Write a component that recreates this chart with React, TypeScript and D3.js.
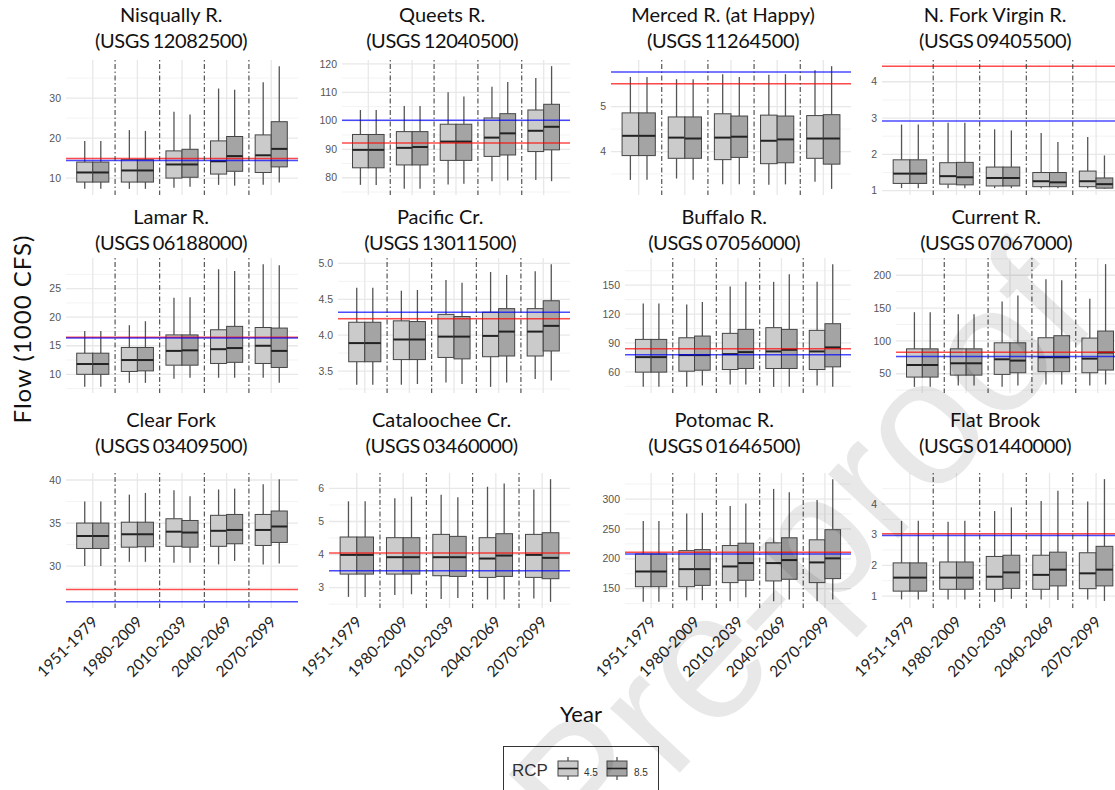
import React from 'react';
import * as d3 from 'd3';

const periods = ['1951-1979', '1980-2009', '2010-2039', '2040-2069', '2070-2099'];
const rcpLevels = ['4.5', '8.5'];
const stationNames = ['Nisqually R.', 'Queets R.', 'Merced R. (at Happy)', 'N. Fork Virgin R.', 'Lamar R.', 'Pacific Cr.', 'Buffalo R.', 'Current R.', 'Clear Fork', 'Cataloochee Cr.', 'Potomac R.', 'Flat Brook'];
const gaugeIds = ['12082500', '12040500', '11264500', '09405500', '06188000', '13011500', '07056000', '07067000', '03409500', '03460000', '01646500', '01440000'];
const redLines = [14.9, 92.2, 5.51, 4.43, 16.5, 4.23, 84, 82.8, 27.3, 4.05, 210.9, 3.03];
const blueLines = [14.4, 100.2, 5.77, 2.92, 16.35, 4.32, 77.7, 76.1, 25.85, 3.51, 208.1, 2.97];
const yTicks = [
  [10, 20, 30], [80, 90, 100, 110, 120], [4, 5], [1, 2, 3, 4],
  [10, 15, 20, 25], [3.5, 4.0, 4.5, 5.0], [60, 90, 120, 150], [50, 100, 150, 200],
  [30, 35, 40], [3, 4, 5, 6], [150, 200, 250, 300], [1, 2, 3, 4],
];
const tickFormats = ['d', 'd', 'd', 'd', 'd', '.1f', 'd', 'd', 'd', 'd', 'd', 'd'];

// [period][rcp] = [lower whisker, q1, median, q3, upper whisker]
const nisqually = [
  [[7.3, 9.0, 11.4, 14.0, 19.3], [7.3, 9.0, 11.4, 14.0, 19.3]],
  [[7.3, 9.0, 11.9, 14.6, 22.0], [7.3, 9.0, 11.9, 14.6, 21.8]],
  [[7.6, 10.0, 13.4, 16.8, 26.6], [7.8, 10.2, 13.4, 17.2, 25.9]],
  [[8.3, 11.0, 14.2, 19.3, 32.4], [8.1, 11.7, 15.5, 20.4, 32.1]],
  [[8.3, 11.4, 15.7, 20.8, 34.0], [8.9, 12.8, 17.3, 24.1, 38.0]],
];
const queets = [
  [[77.5, 83.5, 89.8, 95.2, 103.8], [77.5, 83.5, 89.8, 95.2, 103.8]],
  [[76.1, 84.5, 90.5, 96.2, 105.2], [76.1, 84.5, 90.8, 96.2, 105.2]],
  [[77.6, 86.1, 92.7, 98.8, 110], [77.9, 86.1, 92.7, 98.8, 108.5]],
  [[78.8, 87.5, 94.1, 101, 112], [79, 88, 95.6, 102.5, 113.6]],
  [[79.2, 89.2, 96.5, 103.8, 115], [78.8, 89.8, 97.9, 105.8, 119.2]],
];
const merced = [
  [[3.37, 3.91, 4.35, 4.86, 5.66], [3.37, 3.91, 4.35, 4.86, 5.66]],
  [[3.40, 3.85, 4.31, 4.77, 5.61], [3.37, 3.85, 4.29, 4.77, 5.61]],
  [[3.27, 3.82, 4.31, 4.84, 5.72], [3.27, 3.87, 4.33, 4.79, 5.66]],
  [[3.26, 3.73, 4.24, 4.81, 5.71], [3.27, 3.75, 4.27, 4.79, 5.72]],
  [[3.33, 3.85, 4.29, 4.80, 5.81], [3.17, 3.72, 4.29, 4.82, 5.90]],
];
const nForkVirgin = [
  [[1.07, 1.20, 1.47, 1.85, 2.82], [1.07, 1.20, 1.47, 1.85, 2.82]],
  [[1.07, 1.18, 1.40, 1.77, 2.87], [1.07, 1.16, 1.37, 1.78, 2.87]],
  [[1.07, 1.13, 1.35, 1.65, 2.69], [1.07, 1.13, 1.35, 1.65, 2.66]],
  [[1.07, 1.11, 1.26, 1.50, 2.59], [1.07, 1.11, 1.23, 1.50, 2.34]],
  [[1.07, 1.11, 1.26, 1.54, 2.48], [1.05, 1.07, 1.18, 1.35, 1.97]],
];
const lamar = [
  [[7.8, 10.0, 11.8, 13.7, 17.6], [7.8, 10.0, 11.8, 13.7, 17.6]],
  [[8.5, 10.5, 12.5, 14.7, 18.6], [8.5, 10.6, 12.5, 14.7, 19.3]],
  [[9.2, 11.6, 14.1, 16.9, 23.4], [9.4, 11.6, 14.2, 16.9, 23.5]],
  [[9.4, 11.9, 14.4, 17.8, 28.4], [9.4, 12.1, 14.6, 18.4, 28.1]],
  [[9.4, 11.9, 15.0, 18.2, 29.3], [8.5, 11.2, 14.1, 18.1, 29.1]],
];
const pacific = [
  [[3.31, 3.63, 3.89, 4.18, 4.66], [3.31, 3.63, 3.89, 4.18, 4.66]],
  [[3.31, 3.66, 3.94, 4.20, 4.62], [3.32, 3.66, 3.94, 4.19, 4.63]],
  [[3.34, 3.69, 3.98, 4.29, 4.77], [3.32, 3.67, 3.98, 4.26, 4.73]],
  [[3.28, 3.70, 3.99, 4.32, 4.88], [3.34, 3.71, 4.05, 4.37, 4.84]],
  [[3.39, 3.71, 4.05, 4.37, 4.89], [3.37, 3.78, 4.13, 4.48, 4.99]],
];
const buffalo = [
  [[44.4, 59.7, 75.3, 93.7, 131], [44.4, 59.7, 75.3, 93.7, 131]],
  [[44.4, 60.7, 77.4, 95.4, 130], [45.8, 61.7, 77.4, 97.2, 132.6]],
  [[46.8, 62.4, 78.4, 100, 148.6], [46.8, 63.5, 80.5, 104.1, 153.5]],
  [[44.4, 63.5, 81.2, 105.9, 153.5], [44.4, 63.5, 82.9, 104.1, 161.5]],
  [[45.8, 62.4, 81.2, 103.1, 153.5], [44.4, 65.2, 85.4, 110, 171.9]],
];
const current = [
  [[30, 44.9, 63.3, 87.9, 143.7], [30, 44.9, 63.3, 87.9, 143.7]],
  [[32.1, 47.9, 65.9, 87.9, 140.6], [32.1, 47.9, 65.9, 87.9, 140.6]],
  [[30, 49, 72, 97.1, 160], [32, 51.5, 70, 97.1, 169.3]],
  [[33.6, 53.1, 75.1, 104.8, 193.9], [33.6, 53.1, 75.1, 107.9, 192.3]],
  [[32.1, 51.5, 73, 104.3, 164.2], [33.6, 55.6, 82.3, 115, 216.9]],
];
const clearFork = [
  [[30.0, 32.05, 33.5, 35.0, 37.5], [30.0, 32.05, 33.5, 35.0, 37.5]],
  [[30.5, 32.2, 33.7, 35.1, 38.3], [30.5, 32.25, 33.7, 35.1, 38.5]],
  [[30.4, 32.3, 34.0, 35.5, 38.8], [30.4, 32.2, 33.9, 35.3, 38.1]],
  [[30.2, 32.3, 34.1, 35.9, 38.9], [30.6, 32.6, 34.2, 36.0, 39.0]],
  [[30.2, 32.4, 34.2, 36.0, 39.5], [30.3, 32.75, 34.6, 36.4, 40.1]],
];
const cataloochee = [
  [[2.72, 3.41, 3.99, 4.53, 5.61], [2.72, 3.41, 3.99, 4.53, 5.61]],
  [[2.78, 3.41, 3.92, 4.51, 5.70], [2.80, 3.41, 3.92, 4.51, 5.75]],
  [[2.66, 3.36, 3.92, 4.61, 5.81], [2.69, 3.34, 3.92, 4.55, 5.73]],
  [[2.64, 3.31, 3.88, 4.51, 6.05], [2.64, 3.34, 3.97, 4.63, 6.15]],
  [[2.67, 3.31, 3.99, 4.61, 5.97], [2.57, 3.27, 3.90, 4.66, 6.28]],
];
const potomac = [
  [[128, 153.4, 178.8, 208.1, 263.4], [128, 153.4, 178.8, 208.1, 263.4]],
  [[130.3, 153.4, 182.7, 213.7, 275.8], [130.8, 155.6, 182.7, 215.4, 276.9]],
  [[129.1, 160.2, 187.2, 222.2, 288.2], [135.9, 164.1, 192.9, 226.1, 292.7]],
  [[129.1, 163, 192.9, 226.7, 317], [132, 165.8, 197.9, 235.2, 311.3]],
  [[129.1, 160.2, 194, 231.8, 298.3], [132, 166.9, 200.8, 248.7, 333.3]],
];
const flatBrook = [
  [[0.89, 1.16, 1.60, 2.08, 3.45], [0.89, 1.16, 1.60, 2.08, 3.45]],
  [[0.89, 1.22, 1.60, 2.11, 3.42], [0.89, 1.22, 1.60, 2.11, 3.45]],
  [[0.81, 1.22, 1.63, 2.29, 3.77], [0.91, 1.25, 1.77, 2.33, 3.89]],
  [[0.89, 1.22, 1.69, 2.33, 4.10], [0.87, 1.33, 1.86, 2.43, 4.43]],
  [[0.89, 1.24, 1.74, 2.41, 4.08], [0.84, 1.33, 1.86, 2.62, 4.81]],
];
const stationStats = [nisqually, queets, merced, nForkVirgin, lamar, pacific, buffalo, current, clearFork, cataloochee, potomac, flatBrook];

// layout
const W = 1115;
const H = 790;
const rowTop = [60, 258, 473];
const rowBottom = [195, 393, 608];
const colRight = [298, 570, 851, 1124];
const panelLeft = [66, 342, 611, 882, 66, 338, 625, 896, 66, 329, 625, 882];
const titleBase = [[22, 48], [224, 250], [427, 453]];
const fillColor = d3.scaleOrdinal<string, string>().domain(rcpLevels).range(['#cbcbcb', '#a4a4a4']);
const TITLE_FONT = 'Lato, "Open Sans", sans-serif';
const TICK_FONT = '"Liberation Sans", Arial, sans-serif';

function Panel({ idx }: { idx: number }) {
  const row = Math.floor(idx / 4);
  const col = idx % 4;
  const left = panelLeft[idx];
  const right = colRight[col];
  const top = rowTop[row];
  const bottom = rowBottom[row];
  const stats = stationStats[idx];
  const vals: number[] = [];
  stats.forEach((p) => p.forEach((b) => b.forEach((v) => vals.push(v))));
  vals.push(redLines[idx], blueLines[idx]);
  const [mn, mx] = d3.extent(vals) as [number, number];
  const pad = (mx - mn) * 0.05;
  const y = d3.scaleLinear().domain([mn - pad, mx + pad]).range([bottom, top]);
  const x = d3.scaleBand<string>().domain(periods).range([left, right]).paddingInner(0).paddingOuter(0.1);
  const step = x.step();
  const bw = step * 0.36;
  const ticks = yTicks[idx];
  const s = ticks[1] - ticks[0];
  const [d0, d1] = y.domain();
  const minor: number[] = [];
  for (let v = ticks[0] - s / 2; v <= d1; v += s) if (v >= d0) minor.push(v);
  const major = ticks.filter((v) => v >= d0 && v <= d1);
  const fmt = d3.format(tickFormats[idx]);
  const labelW = d3.max(major, (t) => fmt(t).length * 5.85) as number;
  const titleX = (left - 10 - labelW + right) / 2;
  const cx = (p: string) => (x(p) as number) + x.bandwidth() / 2;
  const boundaries = periods.slice(1).map((p) => x(p) as number);

  return (
    <g>
      {minor.map((v, i) => (
        <line key={'mi' + i} x1={left} x2={right} y1={y(v)} y2={y(v)} stroke="#f0f0f0" strokeWidth={0.8} />
      ))}
      {major.map((v, i) => (
        <line key={'ma' + i} x1={left} x2={right} y1={y(v)} y2={y(v)} stroke="#e8e8e8" strokeWidth={1.3} />
      ))}
      {periods.map((p) => (
        <line key={'vg' + p} x1={cx(p)} x2={cx(p)} y1={top} y2={bottom} stroke="#e8e8e8" strokeWidth={1.3} />
      ))}
      {major.map((v, i) => (
        <text key={'tl' + i} x={left - 5} y={y(v)} dy="0.35em" textAnchor="end" fontFamily={TICK_FONT} fontSize={10.5} fill="#555">
          {fmt(v)}
        </text>
      ))}
      {periods.map((p, pi) =>
        rcpLevels.map((r, ri) => {
          const [lo, q1, md, q3, hi] = stats[pi][ri];
          const bx = cx(p) + (ri === 0 ? -bw : 0);
          const wx = bx + bw / 2;
          return (
            <g key={p + r}>
              <line x1={wx} x2={wx} y1={y(hi)} y2={y(q3)} stroke="#555" strokeWidth={1.3} />
              <line x1={wx} x2={wx} y1={y(q1)} y2={y(lo)} stroke="#555" strokeWidth={1.3} />
              <rect x={bx} y={y(q3)} width={bw} height={y(q1) - y(q3)} fill={fillColor(r)} stroke="#444" strokeWidth={1} />
              <line x1={bx} x2={bx + bw} y1={y(md)} y2={y(md)} stroke="#222" strokeWidth={2} />
            </g>
          );
        })
      )}
      <line x1={left} x2={right} y1={y(redLines[idx])} y2={y(redLines[idx])} stroke="#ff0000" strokeOpacity={0.7} strokeWidth={1.5} />
      <line x1={left} x2={right} y1={y(blueLines[idx])} y2={y(blueLines[idx])} stroke="#0000ff" strokeOpacity={0.7} strokeWidth={1.5} />
      {boundaries.map((bx, i) => (
        <line key={'db' + i} x1={bx} x2={bx} y1={top} y2={bottom} stroke="#333" strokeWidth={1} strokeDasharray="1.5 2.5 5 2.5" />
      ))}
      <text x={titleX} y={titleBase[row][0]} textAnchor="middle" fontFamily={TITLE_FONT} fontSize={20} fill="#111">
        {stationNames[idx]}
      </text>
      <text x={titleX} y={titleBase[row][1]} textAnchor="middle" fontFamily={TITLE_FONT} fontSize={20} letterSpacing={-0.4} wordSpacing={-1.5} fill="#111">
        {'(USGS ' + gaugeIds[idx] + ')'}
      </text>
      {row === 2 &&
        periods.map((p) => {
          const tx = cx(p) + 6;
          const ty = bottom + 15;
          return (
            <text key={'xl' + p} x={tx} y={ty} textAnchor="end" fontFamily={TITLE_FONT} fontSize={15.5} fill="#222" transform={`rotate(-45 ${tx} ${ty})`}>
              {p}
            </text>
          );
        })}
    </g>
  );
}

function LegendKey({ x0, level }: { x0: number; level: string }) {
  const c = x0 + 11;
  return (
    <g>
      <line x1={c} x2={c} y1={757} y2={780} stroke="#555" strokeWidth={1.3} />
      <rect x={x0 + 1} y={761} width={20} height={15} fill={fillColor(level)} stroke="#444" strokeWidth={1} />
      <line x1={x0 + 1} x2={x0 + 21} y1={768.5} y2={768.5} stroke="#222" strokeWidth={1.6} />
    </g>
  );
}

export default function App() {
  return (
    <svg width={W} height={H} style={{ position: 'absolute', left: 0, top: 0, background: '#fff' }}>
      <rect x={0} y={0} width={W} height={H} fill="#fff" />
      {stationNames.map((_, i) => (
        <Panel key={i} idx={i} />
      ))}
      <text x={31} y={329} textAnchor="middle" fontFamily={TITLE_FONT} fontSize={24} letterSpacing={1} fill="#111" transform="rotate(-90 31 329)">
        Flow (1000 CFS)
      </text>
      <text x={581} y={722} textAnchor="middle" fontFamily={TITLE_FONT} fontSize={22} fill="#111">
        Year
      </text>
      <rect x={503.5} y={746.5} width={155} height={60} fill="#fff" stroke="#333" strokeWidth={1} />
      <text x={512} y={776} fontFamily={TICK_FONT} fontSize={17} fill="#333">RCP</text>
      <LegendKey x0={557} level={rcpLevels[0]} />
      <text x={584} y={776} fontFamily={TICK_FONT} fontSize={10} fill="#333">{rcpLevels[0]}</text>
      <LegendKey x0={606} level={rcpLevels[1]} />
      <text x={634} y={776} fontFamily={TICK_FONT} fontSize={10} fill="#333">{rcpLevels[1]}</text>
      <text x={1101} y={321} textAnchor="end" fontFamily={TICK_FONT} fontSize={180} fill="#000" fillOpacity={0.09} transform="rotate(-47 1101 321)">
        Journal Pre-proof
      </text>
    </svg>
  );
}
